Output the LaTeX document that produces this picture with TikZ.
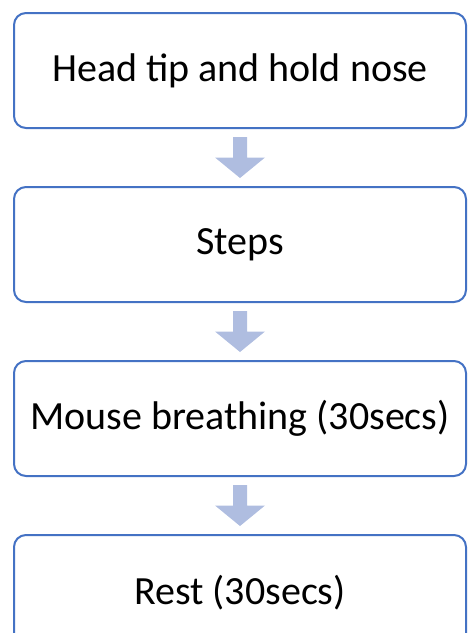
\documentclass[tikz,border=0pt]{standalone}
\usepackage{fontspec}
\setmainfont{Carlito}
\usetikzlibrary{positioning,calc}
\definecolor{boxline}{RGB}{68,114,196}
\definecolor{arrowfill}{RGB}{175,189,224}
\tikzset{
  stepbox/.style={draw=boxline, line width=2pt, rounded corners=12pt, fill=white,
    minimum width=452pt, minimum height=115pt, inner sep=0pt,
    font=\fontsize{40}{48}\selectfont},
}
\begin{document}
\begin{tikzpicture}[x=1pt, y=1pt, line join=round]
	\clip (0,0) rectangle (469,-633);
	\node[stepbox] (h1) at (240,-70.5) {Head tip and hold nose};
	\node[stepbox, below=57pt of h1] (h2) {Steps};
	\node[stepbox, below=57pt of h2] (h3) {Mouse breathing (30secs)};
	\node[stepbox, below=57pt of h3] (h4) {Rest (30secs)};
	% block arrows between the boxes
	\foreach\a/\b in {h1/h2,h2/h3,h3/h4}
	{\path ($(\a.south)!0.5!(\b.north)$) coordinate (m);
		\fill[arrowfill] ($(m)+(-7,20.5)$) -- ($(m)+(7,20.5)$) -- ($(m)+(7,0)$) -- ($(m)+(25,0)$)
			-- ($(m)+(0,-20.5)$) -- ($(m)+(-25,0)$) -- ($(m)+(-7,0)$) -- cycle;
	}
\end{tikzpicture}
\end{document}
